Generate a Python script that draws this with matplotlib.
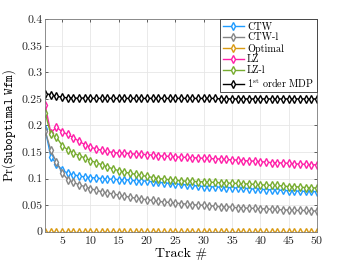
import numpy as np
import matplotlib
matplotlib.use("Agg")
import matplotlib.pyplot as plt

plt.rcParams['mathtext.fontset'] = 'cm'
plt.rcParams['font.family'] = 'serif'
plt.rcParams['font.serif'] = ['cmr10', 'DejaVu Serif']
plt.rcParams['axes.formatter.use_mathtext'] = True

tracks = np.arange(2, 51)

ctw = [0.193, 0.141, 0.128, 0.116, 0.110, 0.107, 0.105, 0.103, 0.102, 0.101,
       0.100, 0.099, 0.099, 0.098, 0.098, 0.097, 0.096, 0.096, 0.095, 0.094,
       0.093, 0.092, 0.091, 0.090, 0.089, 0.088, 0.087, 0.086, 0.085, 0.085,
       0.084, 0.084, 0.083, 0.083, 0.082, 0.082, 0.081, 0.080, 0.080, 0.079,
       0.079, 0.078, 0.078, 0.077, 0.077, 0.076, 0.076, 0.076, 0.075]
ctw_l = [0.190, 0.153, 0.131, 0.111, 0.098, 0.093, 0.088, 0.085, 0.081, 0.078,
         0.075, 0.073, 0.071, 0.069, 0.067, 0.065, 0.063, 0.062, 0.060, 0.059,
         0.057, 0.056, 0.055, 0.054, 0.053, 0.052, 0.051, 0.050, 0.050, 0.049,
         0.048, 0.047, 0.047, 0.046, 0.045, 0.045, 0.044, 0.044, 0.043, 0.043,
         0.042, 0.042, 0.041, 0.041, 0.040, 0.040, 0.040, 0.039, 0.039]
optimal = [0.0] * 49
lz = [0.238, 0.186, 0.197, 0.188, 0.183, 0.177, 0.170, 0.164, 0.159, 0.156,
      0.153, 0.151, 0.149, 0.148, 0.148, 0.147, 0.146, 0.146, 0.145, 0.144,
      0.143, 0.142, 0.142, 0.141, 0.140, 0.140, 0.139, 0.139, 0.138, 0.138,
      0.137, 0.137, 0.136, 0.135, 0.135, 0.134, 0.133, 0.133, 0.132, 0.131,
      0.130, 0.130, 0.129, 0.129, 0.128, 0.127, 0.127, 0.126, 0.126]
lz_l = [0.224, 0.183, 0.178, 0.162, 0.154, 0.148, 0.143, 0.139, 0.134, 0.130,
        0.126, 0.122, 0.118, 0.115, 0.112, 0.110, 0.108, 0.106, 0.104, 0.102,
        0.100, 0.099, 0.098, 0.097, 0.096, 0.095, 0.095, 0.094, 0.094, 0.093,
        0.093, 0.092, 0.092, 0.091, 0.091, 0.090, 0.090, 0.089, 0.088, 0.088,
        0.087, 0.087, 0.086, 0.085, 0.085, 0.084, 0.083, 0.083, 0.082]
mdp = [0.260, 0.258, 0.255, 0.253, 0.252, 0.252, 0.251, 0.252, 0.251, 0.251,
       0.251, 0.251, 0.251, 0.251, 0.251, 0.251, 0.251, 0.251, 0.251, 0.251,
       0.251, 0.251, 0.251, 0.251, 0.251, 0.251, 0.251, 0.251, 0.251, 0.251,
       0.251, 0.250, 0.250, 0.250, 0.250, 0.250, 0.250, 0.250, 0.250, 0.250,
       0.250, 0.250, 0.250, 0.250, 0.250, 0.250, 0.250, 0.250, 0.250]

series = [
    (ctw, '#1E9BFF', 'CTW'),
    (ctw_l, '#858585', 'CTW-l'),
    (optimal, '#D99A12', 'Optimal'),
    (lz, '#FF1FA8', 'LZ'),
    (lz_l, '#77AC30', 'LZ-l'),
    (mdp, '#000000', r'1$^{\rm st}$ order MDP'),
]

fig = plt.figure(figsize=(3.5, 2.63), dpi=100)
ax = fig.add_axes([0.129, 0.119, 0.777, 0.808])

for vals, col, lab in series:
    ax.plot(tracks, vals, color=col, lw=1.0, marker='d', ms=4.2,
            mfc='white', mec=col, mew=1.0, label=lab)

ax.set_xlim(2, 50)
ax.set_ylim(0, 0.4)
ax.set_xticks(np.arange(5, 51, 5))
ax.set_yticks(np.arange(0, 0.41, 0.05))
ax.set_yticklabels(['0', '0.05', '0.1', '0.15', '0.2', '0.25', '0.3', '0.35', '0.4'])
ax.tick_params(direction='in', top=True, right=True, labelsize=8.5,
               length=2.5, width=0.5, colors='#262626', pad=2)
ax.grid(True, color='#e6e6e6', lw=0.6)
ax.set_axisbelow(True)
for s in ax.spines.values():
    s.set_color('#7a7a7a')
    s.set_linewidth(0.6)

ax.set_xlabel('Track #', fontsize=10, labelpad=1)
ax.set_ylabel(r'$\mathrm{Pr}(\mathtt{Suboptimal\ Wfm})$', fontsize=9, labelpad=2)

leg = ax.legend(loc='upper right', fontsize=7.3, borderaxespad=0,
                fancybox=False, framealpha=1, edgecolor='#333333',
                handlelength=2.1, handletextpad=0.3, borderpad=0.3,
                labelspacing=0.12)
leg.get_frame().set_linewidth(0.6)

fig.savefig('out.png', dpi=100)
